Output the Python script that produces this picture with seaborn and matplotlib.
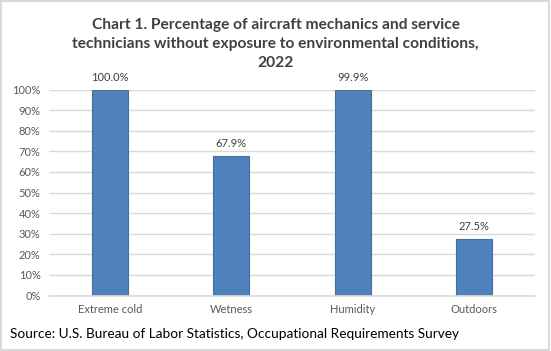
import numpy as np
import pandas as pd
import matplotlib
matplotlib.use("Agg")
import matplotlib.pyplot as plt
import seaborn as sns
from matplotlib.ticker import PercentFormatter

# Chart data
categories = ["Extreme cold", "Wetness", "Humidity", "Outdoors"]
values = [100.0, 67.9, 99.9, 27.5]
labels = ["100.0%", "67.9%", "99.9%", "27.5%"]

title = ("Chart 1. Percentage of aircraft mechanics and service\n"
         "technicians without exposure to environmental conditions,\n"
         "2022")
source = "Source: U.S. Bureau of Labor Statistics, Occupational Requirements Survey"

sns.set_theme(style="white")
plt.rcParams["font.family"] = ["Lato", "DejaVu Sans"]

df = pd.DataFrame({"category": categories, "value": values})

fig = plt.figure(figsize=(5.51, 3.51), dpi=100)
ax = fig.add_axes([49 / 551, 1 - 295.5 / 351, 486 / 551, 206 / 351])

sns.barplot(data=df, x="category", y="value", color="#4F81BD", width=0.3,
            edgecolor="#41719C", linewidth=0.8, saturation=1, ax=ax)

ax.set_ylim(0, 100)
ax.set_yticks(np.arange(0, 101, 10))
ax.yaxis.set_major_formatter(PercentFormatter(decimals=0))
ax.grid(axis="y", color="#D9D9D9", linewidth=1)
ax.set_axisbelow(True)
for s in ["top", "right", "left"]:
    ax.spines[s].set_visible(False)
ax.spines["bottom"].set_color("#D9D9D9")
ax.set_xlabel("")
ax.set_ylabel("")
ax.tick_params(axis="both", length=0, labelsize=8, colors="#595959", pad=6)

for i, (v, lab) in enumerate(zip(values, labels)):
    ax.annotate(lab, (i, v), xytext=(0, 5), textcoords="offset points",
                ha="center", va="bottom", fontsize=8, color="#404040")

fig.text(0.5, 1 - 44 / 351, title, ha="center", va="center", fontsize=11.2,
         fontweight="bold", color="#404040", linespacing=1.45)
fig.text(10 / 551, 1 - 334 / 351, source, ha="left", va="center",
         fontsize=9.8, color="black")

# light frame around the image
fig.patches.append(plt.Rectangle((0.002, 0.003), 0.995, 0.994, transform=fig.transFigure,
                                 fill=False, edgecolor="#D9D9D9", linewidth=1.5))

fig.savefig("out.png", dpi=100)
